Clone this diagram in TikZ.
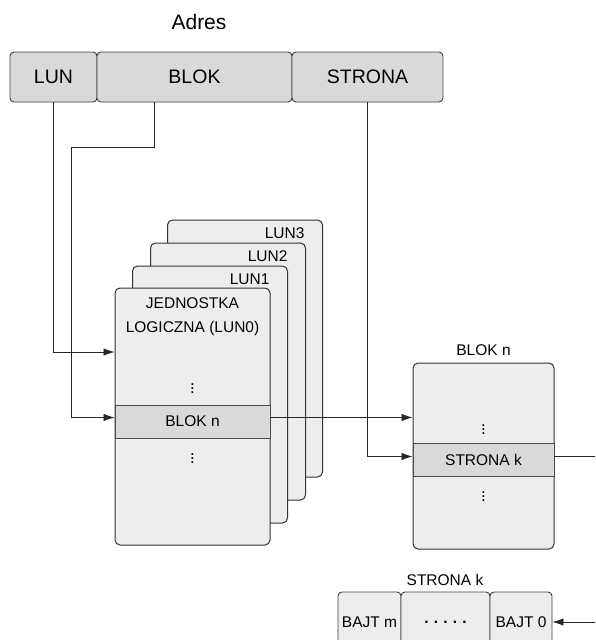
\documentclass[tikz,border=0pt]{standalone}
\usepackage{fontspec}
\setmainfont{Liberation Sans}
\usepackage{tikz}
\usetikzlibrary{arrows.meta,positioning}

\begin{document}
\begin{tikzpicture}[x=1pt,y=-1pt,
    txt/.style={font=\fontsize{15.5}{24}\selectfont},
    vdot/.style={inner sep=0pt, font=\fontsize{17}{17}\selectfont},
    field/.style={draw=black!75, fill=black!15, rounded corners=4pt, line width=0.9pt,
        minimum height=50pt, inner sep=0pt, font=\fontsize{19.5}{22}\selectfont},
    lunbox/.style={draw=black!80, fill=black!7, rounded corners=5pt, line width=1pt,
        minimum width=155pt, minimum height=257pt, inner sep=0pt},
    blkbox/.style={draw=black!80, fill=black!7, rounded corners=5pt, line width=1pt,
        minimum width=141pt, minimum height=186pt, inner sep=0pt},
    band/.style={txt, draw=black!70, fill=black!15, line width=0.9pt,
        minimum height=33pt, inner sep=0pt},
    bajt/.style={txt, draw=black!75, fill=black!7, rounded corners=4pt, line width=0.9pt,
        minimum height=60pt, inner sep=0pt},
    arr/.style={draw=black!85, line width=0.8pt, -{Latex[length=11pt,width=7.5pt]}}]
    \useasboundingbox (0,0) rectangle (595,640);
    \clip (0,0) rectangle (595,640);

    % adres
    \node[font=\fontsize{21}{24}\selectfont] (adres) at (199,22) {Adres};
    \node[field, minimum width=87pt] (lun) at (53.5,77) {LUN};
    \node[field, minimum width=195pt] (blok) at (194.5,77) {BLOK};
    \node[field, minimum width=151pt] (strona) at (367.5,77) {STRONA};

    % jednostki logiczne
    \node[lunbox] (lun3) at (245,348.5) {};
    \node[txt, anchor=north east] at ([xshift=-15pt,yshift=-5pt]lun3.north east) {LUN3};
    \node[lunbox] (lun2) at (228,371.5) {};
    \node[txt, anchor=north east] at ([xshift=-15pt,yshift=-5pt]lun2.north east) {LUN2};
    \node[lunbox] (lun1) at (210,394.5) {};
    \node[txt, anchor=north east] at ([xshift=-15pt,yshift=-5pt]lun1.north east) {LUN1};
    \node[lunbox] (lun0) at (192.5,416.5) {};
    \node[txt, align=center] (lun0txt) at ([yshift=-29pt]lun0.north) {JEDNOSTKA\\LOGICZNA (LUN0)};
    \node[vdot] (dots1) at (192.5,386) {$\vdots$};
    \node[band, minimum width=155pt] (blk) at (192.5,421.5) {BLOK n};
    \node[vdot] (dots2) at (192.5,456) {$\vdots$};

    % blok n
    \node[blkbox] (blkn) at (483.5,456) {};
    \node[txt, above=3pt of blkn.north] (blkntxt) {BLOK n};
    \node[vdot] (dots3) at (483.5,427) {$\vdots$};
    \node[band, minimum width=141pt] (strk) at (483.5,459.5) {STRONA k};
    \node[vdot] (dots4) at (483.5,494) {$\vdots$};

    % strona k
    \node[txt] (strktxt) at (445,580) {STRONA k};
    \node[bajt, minimum width=63pt] (bajtm) at (369.5,622) {BAJT m};
    \node[bajt, minimum width=89pt] (bajtd) at (445.5,622) {\bfseries .\,\,.\,\,.\,\,.\,\,.};
    \node[bajt, minimum width=62pt] (bajt0) at (521,622) {BAJT 0};

    % polaczenia
    \coordinate (bend) at (71,147);
    \draw[arr] (lun.south) |- ([yshift=64.5pt]lun0.west);
    \draw[arr] ([xshift=-40.5pt]blok.south) |- (bend) |- ([yshift=4pt]blk.west);
    \draw[arr] (strona.south) |- ([yshift=3pt]strk.west);
    \draw[arr] ([yshift=4pt]blk.east) -- ([yshift=4pt]blk.east -| blkn.west);
    \draw[arr] ([yshift=3pt]strk.east) -- ++(80,0) |- (bajt0.east);
\end{tikzpicture}
\end{document}
